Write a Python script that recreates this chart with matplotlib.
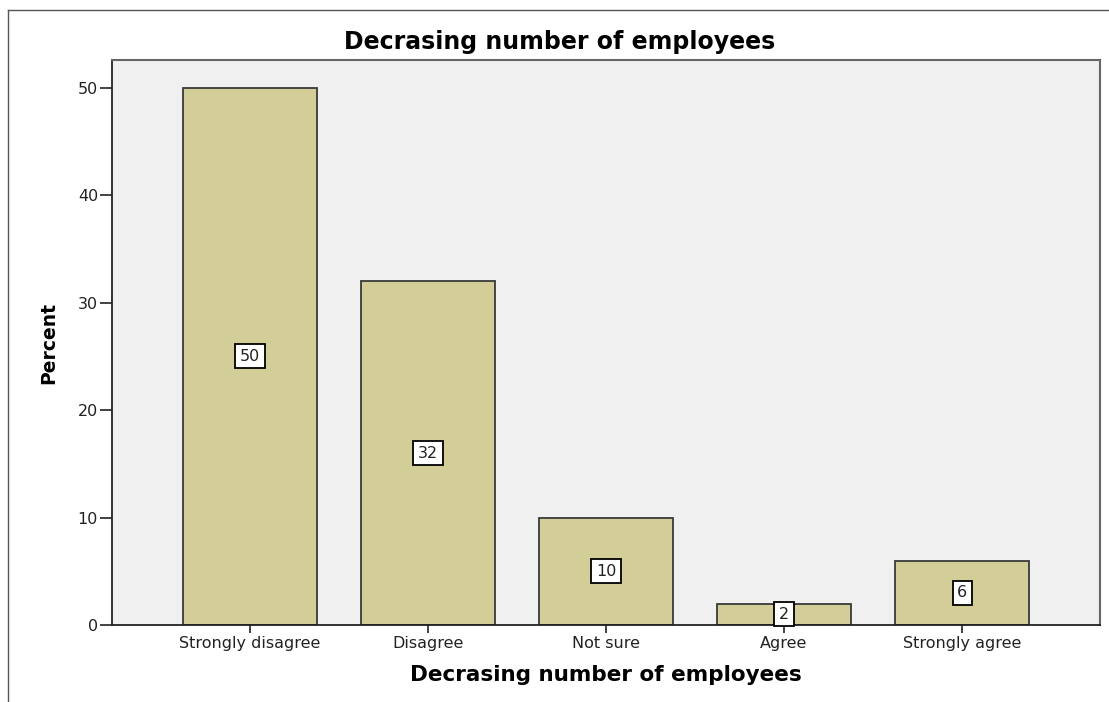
import matplotlib.pyplot as plt
import numpy as np
from matplotlib.lines import Line2D

plt.rcParams["font.family"] = ["DejaVu Sans"]

categories = ["Strongly disagree", "Disagree", "Not sure", "Agree", "Strongly agree"]
percents = [50, 32, 10, 2, 6]
y_ticks = [0, 10, 20, 30, 40, 50]

bar_color = "#d3cd97"
edge_color = "#3a3a3a"


def main() -> None:
    fig = plt.figure(figsize=(11.09, 7.02), dpi=100)
    ax = fig.add_axes([112 / 1109, 77 / 702, 988 / 1109, 565 / 702])
    ax.set_facecolor("#f0f0f0")

    x = np.arange(len(categories))
    ax.bar(x, percents, width=0.75, color=bar_color, edgecolor=edge_color, linewidth=1.3, zorder=2)

    for xi, v in zip(x, percents):
        ax.text(xi, v / 2, str(v), ha="center", va="center", fontsize=11.5, color="#222222", zorder=3,
                bbox=dict(boxstyle="square,pad=0.28", facecolor="white", edgecolor="black", linewidth=1.3))

    ax.set_xlim(-0.775, 4.775)
    ax.set_ylim(0, 52.6)
    ax.set_xticks(x)
    ax.set_xticklabels(categories)
    ax.set_yticks(y_ticks)
    ax.tick_params(axis="x", direction="out", length=6, width=1.2, colors="#222222", labelsize=11.5, pad=2)
    ax.tick_params(axis="y", direction="out", length=9, width=1.2, colors="#222222", labelsize=11.5, pad=1)

    for side in ["left", "bottom"]:
        ax.spines[side].set_color("#222222")
        ax.spines[side].set_linewidth(1.3)
    for side in ["top", "right"]:
        ax.spines[side].set_color("#666666")
        ax.spines[side].set_linewidth(1.5)

    ax.set_ylabel("Percent", fontsize=13.5, fontweight="bold", labelpad=14)
    ax.set_xlabel("Decrasing number of employees", fontsize=15.5, fontweight="bold", labelpad=10)
    fig.text(560 / 1109, 1 - 42 / 702, "Decrasing number of employees", ha="center", va="center",
             fontsize=17, fontweight="bold")

    # outer frame lines (left and top)
    fig.add_artist(Line2D([8 / 1109, 8 / 1109], [0, 1 - 10 / 702], transform=fig.transFigure, color="#555555", lw=1))
    fig.add_artist(Line2D([8 / 1109, 1], [1 - 10 / 702, 1 - 10 / 702], transform=fig.transFigure, color="#555555", lw=1))

    fig.savefig("out.png", dpi=100, facecolor="white")


if __name__ == "__main__":
    main()
